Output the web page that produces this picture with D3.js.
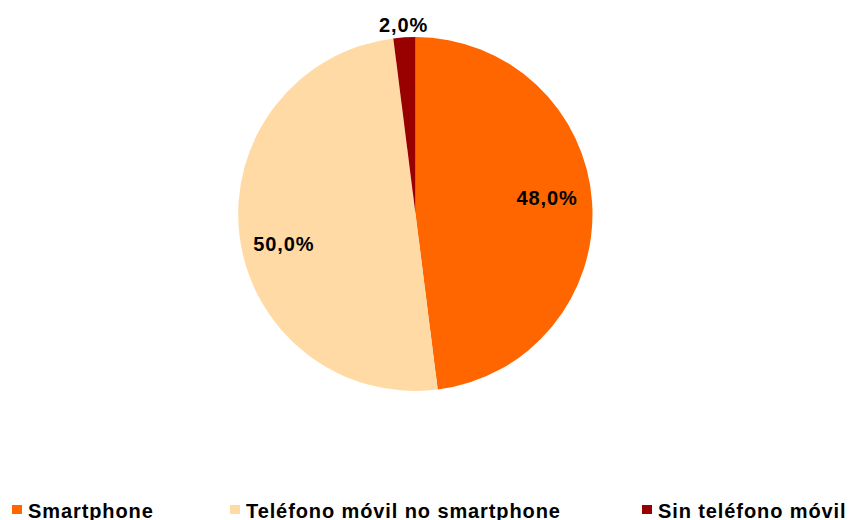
<!DOCTYPE html>
<html>
<head>
<meta charset="utf-8">
<script src="https://cdn.jsdelivr.net/npm/d3@7"></script>
<style>
  body { margin: 0; background: #fff; }
  text { font-family: "Liberation Sans", Arial, sans-serif; font-weight: bold; }
</style>
</head>
<body>
<div id="chart"></div>
<script>
// data
const categories = ['Smartphone', 'Teléfono móvil no smartphone', 'Sin teléfono móvil'];
const values = [48.0, 50.0, 2.0];
const colors = ['#FF6600', '#FFDAA5', '#990000'];

const width = 849, height = 520;
const cx = 415.5, cy = 214, r = 177;

const svg = d3.select('#chart').append('svg')
	.attr('width', width)
	.attr('height', height);

const pie = d3.pie().sort(null).value(d => d.v);
const arcs = pie(categories.map((c, i) => ({ c: c, v: values[i], col: colors[i] })));
const arc = d3.arc().innerRadius(0).outerRadius(r);

const g = svg.append('g').attr('transform', 'translate(' + cx + ',' + cy + ')');

g.selectAll('path.slice')
	.data(arcs)
	.enter().append('path')
	.attr('class', 'slice')
	.attr('d', arc)
	.style('fill', d => d.data.col);

// label placement: radius factor + vertical nudge per slice (small slice sits outside)
const labelRadius = [0.745, 0.75, 1.07];
const labelNudge = [-8, 13, 0];
const fmt = v => d3.format('.1f')(v).replace('.', ',') + '%';

g.selectAll('text.lbl')
	.data(arcs)
	.enter().append('text')
	.attr('class', 'lbl')
	.attr('transform', (d, i) => {
		const a = (d.startAngle + d.endAngle) / 2;
		const rr = r * labelRadius[i];
		return 'translate(' + (Math.sin(a) * rr) + ',' + (-Math.cos(a) * rr + labelNudge[i]) + ')';
	})
	.attr('dy', '0.35em')
	.attr('text-anchor', 'middle')
	.style('font-size', '20px')
	.style('letter-spacing', '0.9px')
	.style('fill', '#000')
	.text(d => fmt(d.data.v));

// legend
const legendX = [12, 230, 642];
const legend = svg.append('g').attr('class', 'legend');
const items = legend.selectAll('g')
	.data(categories)
	.enter().append('g')
	.attr('transform', (d, i) => 'translate(' + legendX[i] + ',505)');

items.append('rect')
	.attr('width', 10)
	.attr('height', 9)
	.style('fill', (d, i) => colors[i]);

items.append('text')
	.attr('x', 16)
	.attr('y', 12.5)
	.style('font-size', '20px')
	.style('letter-spacing', '0.9px')
	.style('fill', '#000')
	.text(d => d);
</script>
</body>
</html>
